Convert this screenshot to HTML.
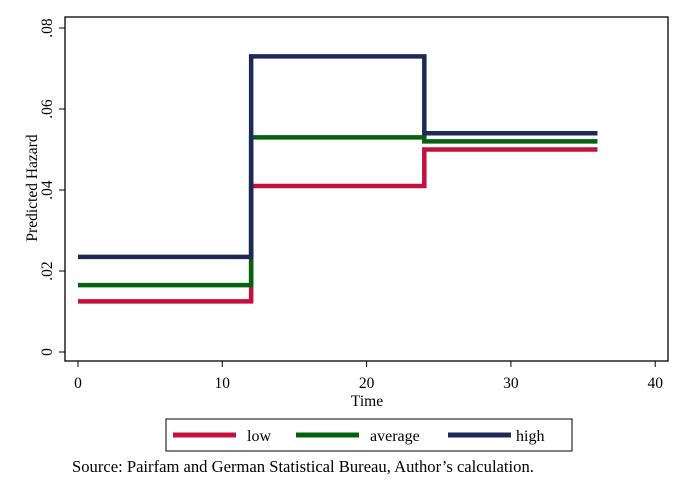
<!DOCTYPE html>
<html><head><meta charset="utf-8"><style>
body{margin:0;background:#fff;}
svg text{font-family:"Liberation Serif",serif;fill:#000;}
</style></head><body>
<svg id="c" width="684" height="498" xmlns="http://www.w3.org/2000/svg">
<rect x="0" y="0" width="684" height="498" fill="#fff"/>
<rect x="65" y="17" width="603" height="344" fill="none" stroke="#000" stroke-width="1.3"/>
<g id="axes"></g>
<g id="series"></g>
<text x="0" y="0" transform="translate(37,188) rotate(-90)" text-anchor="middle" font-size="15.5">Predicted Hazard</text>
<text x="367" y="406" text-anchor="middle" font-size="15.5">Time</text>
<g>
<rect x="166" y="419" width="406" height="32" fill="#fff" stroke="#000" stroke-width="1"/>
<line x1="173" y1="435" x2="236" y2="435" stroke="#c4103f" stroke-width="5"/>
<text x="247" y="441" font-size="16">low</text>
<line x1="296" y1="435" x2="359" y2="435" stroke="#04620f" stroke-width="5"/>
<text x="370" y="441" font-size="16">average</text>
<line x1="448" y1="435" x2="511" y2="435" stroke="#1d2a57" stroke-width="5"/>
<text x="516" y="441" font-size="16">high</text>
</g>
<text x="72" y="472" font-size="16.6">Source: Pairfam and German Statistical Bureau, Author’s calculation.</text>
</svg>
<script>
const xTicks=[0,10,20,30,40];
const yTicks=[0,0.02,0.04,0.06,0.08];
const yTickLabels=["0",".02",".04",".06",".08"];
const breaks=[0,12,24,36];
const lowVals=[0.0125,0.041,0.050];
const avgVals=[0.0165,0.053,0.052];
const highVals=[0.0235,0.073,0.054];
const X=v=>78+v*14.43;
const Y=v=>352-v*4050;
const NS="http://www.w3.org/2000/svg";
const ax=document.getElementById('axes'), sg=document.getElementById('series');
function mk(tag,attrs,parent){const e=document.createElementNS(NS,tag);for(const k in attrs)e.setAttribute(k,attrs[k]);parent.appendChild(e);return e;}
xTicks.forEach(t=>{
 const l=mk('line',{x1:X(t),x2:X(t),y1:361,y2:367,stroke:'#000','stroke-width':1},ax);
 
 
 const tx=mk('text',{x:X(t),y:388,'text-anchor':'middle','font-size':15.5},ax);tx.textContent=t;
 
 
});
yTicks.forEach((t,i)=>{
 const l=mk('line',{x1:59,x2:65,y1:Y(t),y2:Y(t),stroke:'#000','stroke-width':1},ax);
 
 
 const tx=mk('text',{x:0,y:0,transform:`translate(52,${Y(t)}) rotate(-90)`,'text-anchor':'middle','font-size':15.5},ax);tx.textContent=yTickLabels[i];
 
 
});
function step(vals,color,name){
 let d='';
 vals.forEach((v,i)=>{d+=(i?'L':'M')+X(breaks[i])+','+Y(v)+'L'+X(breaks[i+1])+','+Y(v);});
 const p=mk('path',{d:d,fill:'none',stroke:color,'stroke-width':4.5,'stroke-linejoin':'miter'},sg);
 
 
}
step(lowVals,'#c4103f','series-low');
step(avgVals,'#04620f','series-average');
step(highVals,'#1d2a57','series-high');
</script>
</body></html>
